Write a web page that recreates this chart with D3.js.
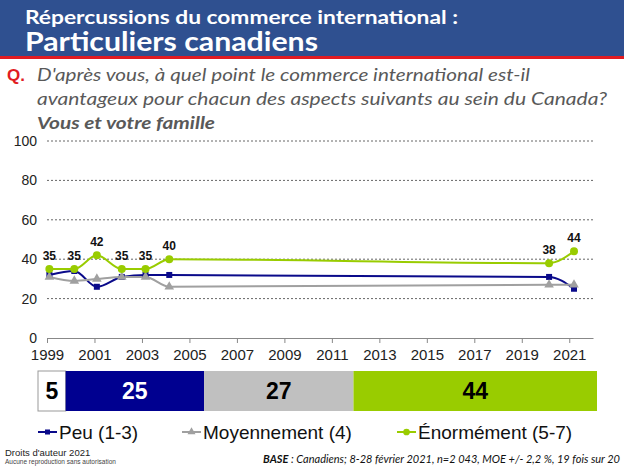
<!DOCTYPE html>
<html><head><meta charset="utf-8">
<script src="https://cdn.jsdelivr.net/npm/d3@7"></script>
<style>body{margin:0;background:#fff}svg{display:block}</style>
</head><body>
<svg id="c" width="624" height="468"></svg>
<script>
const years = [1999.1, 2000.15, 2001.1, 2002.15, 2003.15, 2004.15, 2020.15, 2021.2];
const peu = [32, 34, 26, 31, 32, 32, 31, 25];
const moyennement = [31, 29, 30, 31, 31, 26, 27, 27];
const enormement = [35, 35, 42, 35, 35, 40, 38, 44];
const yTicks = [0, 20, 40, 60, 80, 100];
const xTicks = [1999, 2001, 2003, 2005, 2007, 2009, 2011, 2013, 2015, 2017, 2019, 2021];
const barCats = ["NSP", "Peu (1-3)", "Moyennement (4)", "Énormément (5-7)"];
const barVals = [5, 25, 27, 44];
const seriesNames = ["Peu (1-3)", "Moyennement (4)", "Énormément (5-7)"];

const svg = d3.select("#c");
const font = "'Liberation Sans', Arial, sans-serif";

// Header
svg.append("rect").attr("x",0).attr("y",0).attr("width",624).attr("height",56).attr("fill","#2f5090");
svg.append("rect").attr("x",0).attr("y",56).attr("width",624).attr("height",3).attr("fill","#e11b22");
svg.append("text").attr("x",25).attr("y",24).attr("fill","#fff").attr("font-family","Lato, 'Open Sans', sans-serif")
  .attr("font-weight","bold").attr("font-size",19).attr("textLength",433).attr("lengthAdjust","spacingAndGlyphs")
  .text("Répercussions du commerce international :");
svg.append("text").attr("x",25).attr("y",51).attr("fill","#fff").attr("font-family","Lato, 'Open Sans', sans-serif")
  .attr("font-weight","bold").attr("font-size",26).attr("textLength",293).attr("lengthAdjust","spacingAndGlyphs")
  .text("Particuliers canadiens");

// Question
svg.append("text").attr("x",7).attr("y",81).attr("fill","#e11b22").attr("font-family",font)
  .attr("font-weight","bold").attr("font-size",17).text("Q.");
const qf = "Lato, 'Open Sans', sans-serif";
svg.append("text").attr("x",37).attr("y",81).attr("fill","#595959").attr("font-family",qf)
  .attr("font-style","italic").attr("font-size",17).attr("textLength",493).attr("lengthAdjust","spacingAndGlyphs")
  .text("D'après vous, à quel point le commerce international est-il");
svg.append("text").attr("x",37).attr("y",105).attr("fill","#595959").attr("font-family",qf)
  .attr("font-style","italic").attr("font-size",17).attr("textLength",570).attr("lengthAdjust","spacingAndGlyphs")
  .text("avantageux pour chacun des aspects suivants au sein du Canada?");
svg.append("text").attr("x",37).attr("y",129).attr("fill","#595959").attr("font-family",qf)
  .attr("font-style","italic").attr("font-weight","bold").attr("font-size",17).attr("textLength",178).attr("lengthAdjust","spacingAndGlyphs")
  .text("Vous et votre famille");

// Scales
const x = d3.scaleLinear().domain([1999, 2022]).range([47, 593]);
const y = d3.scaleLinear().domain([0, 100]).range([338, 141]);

// Gridlines
svg.append("g").selectAll("line").data(yTicks.filter(d => d > 0)).join("line")
  .attr("x1", 47).attr("x2", 595).attr("y1", d => y(d)).attr("y2", d => y(d))
  .attr("stroke", "#666").attr("stroke-width", 1).attr("stroke-dasharray", "2,2");

// Y labels
svg.append("g").selectAll("text").data(yTicks).join("text")
  .attr("x", 37).attr("y", d => y(d) + 5).attr("text-anchor", "end")
  .attr("font-family", font).attr("font-size", 14).attr("fill", "#222").text(d => d);

// X axis
const xAxis = d3.axisBottom(x).tickValues(xTicks).tickFormat(d3.format("d")).tickSize(5).tickSizeOuter(0);
const gx = svg.append("g").attr("transform", "translate(0,338)").call(xAxis);
gx.select(".domain").attr("stroke", "#888");
gx.selectAll(".tick line").attr("stroke", "#888");
gx.selectAll(".tick text").attr("font-family", font).attr("font-size", 15).attr("fill", "#222").attr("dy", "0.9em");

// Lines
const colors = ["#0a0a8a", "#a0a0a0", "#99cc00"];
const data = [peu, moyennement, enormement];
const line = d3.line().x((d, i) => x(years[i])).y(d => y(d)).curve(d3.curveMonotoneX);
data.forEach((s, k) => {
  svg.append("path").datum(s).attr("d", line).attr("fill", "none")
    .attr("stroke", colors[k]).attr("stroke-width", 2);
});
// markers
const sym = [d3.symbolSquare, d3.symbolTriangle, d3.symbolCircle];
const sz = [36, 40, 50];
data.forEach((s, k) => {
  svg.append("g").selectAll("path").data(s).join("path")
    .attr("transform", (d, i) => `translate(${x(years[i])},${y(d)})`)
    .attr("d", d3.symbol().type(sym[k]).size(sz[k])).attr("fill", colors[k]);
});
// green labels
svg.append("g").selectAll("text").data(enormement).join("text")
  .attr("x", (d, i) => x(years[i])).attr("y", d => y(d) - 9)
  .attr("text-anchor", "middle").attr("font-family", font).attr("font-weight", "bold")
  .attr("font-size", 12).attr("fill", "#111").text(d => d);

// Stacked bar
const total = d3.sum(barVals);
const bx = d3.scaleLinear().domain([0, total]).range([38, 597]);
const cum = d3.cumsum(barVals);
const barFill = ["#ffffff", "#000090", "#c0c0c0", "#99cc00"];
const barText = ["#000", "#fff", "#000", "#000"];
const bg = svg.append("g");
barVals.forEach((v, i) => {
  const x0 = bx(cum[i] - v), x1 = bx(cum[i]);
  bg.append("rect").attr("x", x0).attr("y", 371).attr("width", x1 - x0).attr("height", 40)
    .attr("fill", barFill[i]).attr("stroke", i === 0 ? "#999" : "none");
  bg.append("text").attr("x", (x0 + x1) / 2).attr("y", 399).attr("text-anchor", "middle")
    .attr("font-family", font).attr("font-weight", "bold").attr("font-size", 23)
    .attr("fill", barText[i]).text(v);
});

// Legend
const legX = [38, 182, 397];
seriesNames.forEach((n, k) => {
  const g = svg.append("g").attr("transform", `translate(${legX[k]},432)`);
  g.append("line").attr("x1", 0).attr("x2", 19).attr("stroke", colors[k]).attr("stroke-width", 2);
  g.append("path").attr("transform", "translate(9.5,0)").attr("d", d3.symbol().type(sym[k]).size(sz[k] * 0.7)).attr("fill", colors[k]);
  g.append("text").attr("x", 21).attr("y", 7).attr("font-family", font).attr("font-size", 19)
    .attr("fill", "#111").text(n);
});

// Footer
svg.append("text").attr("x", 5).attr("y", 456).attr("font-family", font).attr("font-size", 9.5).attr("fill", "#222").text("Droits d'auteur 2021");
svg.append("text").attr("x", 5).attr("y", 464).attr("font-family", font).attr("font-size", 6.5).attr("fill", "#444").text("Aucune reproduction sans autorisation");
const base = svg.append("text").attr("x", 620).attr("y", 463).attr("text-anchor", "end")
  .attr("font-family", qf).attr("font-style", "italic").attr("font-size", 11).attr("fill", "#111");
base.append("tspan").attr("font-weight", "bold").text("BASE");
base.append("tspan").text(" : Canadiens; 8-28 février 2021, n=2 043, MOE +/- 2,2 %, 19 fois sur 20");
</script>
</body></html>
